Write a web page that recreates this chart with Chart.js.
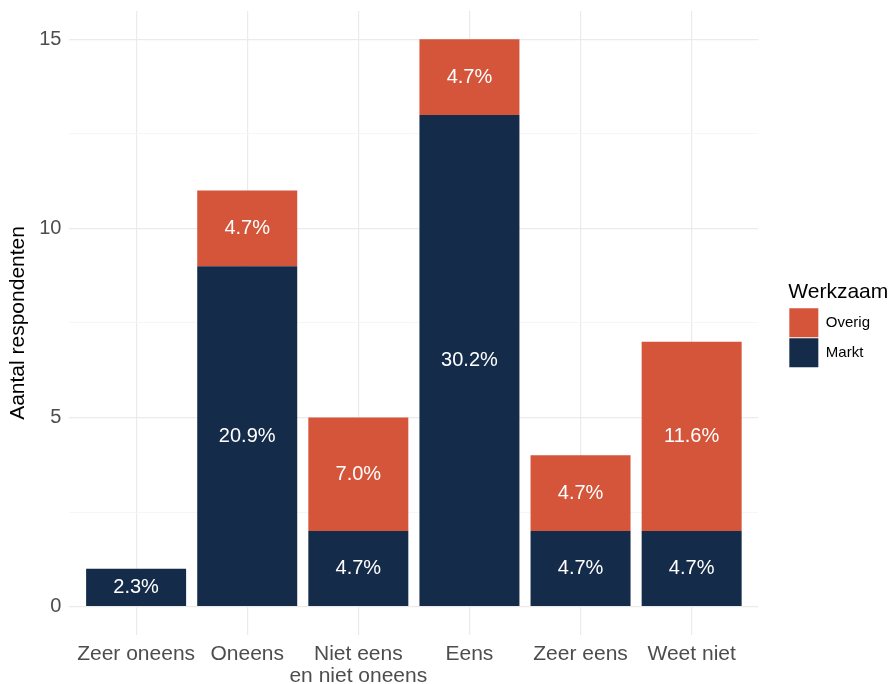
<!DOCTYPE html>
<html>
<head>
<meta charset="utf-8">
<script src="https://cdn.jsdelivr.net/npm/chart.js@4"></script>
<style>
  html, body { margin: 0; padding: 0; background: #fff; }
  #wrap { width: 892px; height: 684px; }
</style>
</head>
<body>
<div id="wrap"><canvas id="chart" width="892" height="684"></canvas></div>
<script>
const categories = ['Zeer oneens', 'Oneens', ['Niet eens', 'en niet oneens'], 'Eens', 'Zeer eens', 'Weet niet'];
const marktValues = [1, 9, 2, 13, 2, 2];
const overigValues = [0, 2, 3, 2, 2, 5];
const marktLabels = ['2.3%', '20.9%', '4.7%', '30.2%', '4.7%', '4.7%'];
const overigLabels = ['', '4.7%', '7.0%', '4.7%', '4.7%', '11.6%'];
const yTicks = [0, 2.5, 5, 7.5, 10, 12.5, 15];

const FONT = '"Liberation Sans", Arial, Helvetica, sans-serif';
const NAVY = '#152B4A';
const ORANGE = '#D4553A';
const LEGEND_EXTRA = 40; // extra legend width
const LEGEND_SHIFT = 30; // how far the legend contents move right

// draw percentage labels centred inside each stacked segment
const segmentLabels = {
    id: 'segmentLabels',
    afterDatasetsDraw(chart) {
        const ctx = chart.ctx;
        const texts = [marktLabels, overigLabels];
        ctx.save();
        ctx.fillStyle = '#ffffff';
        ctx.font = '20px ' + FONT;
        ctx.textAlign = 'center';
        ctx.textBaseline = 'middle';
        chart.data.datasets.forEach((ds, di) => {
            const meta = chart.getDatasetMeta(di);
            meta.data.forEach((bar, i) => {
                const t = texts[di][i];
                if (!t) return;
                ctx.fillText(t, bar.x, (bar.y + bar.base) / 2);
            });
        });
        ctx.restore();
    }
};

// widen the legend box and push its contents right, like ggplot's legend spacing
const legendGap = {
    id: 'legendGap',
    afterInit(chart) {
        const lg = chart.legend;
        const origFit = lg.fit;
        lg.fit = function () {
            origFit.call(this);
            this.width += LEGEND_EXTRA;
        };
    },
    afterLayout(chart) {
        chart.legend.left += LEGEND_SHIFT;
    }
};

new Chart(document.getElementById('chart'), {
    type: 'bar',
    data: {
        datasets: [
            {
                label: 'Markt',
                data: marktValues.map((v, i) => ({ x: i + 1, y: v })),
                backgroundColor: NAVY,
                barPercentage: 0.9,
                categoryPercentage: 1
            },
            {
                label: 'Overig',
                data: overigValues.map((v, i) => ({ x: i + 1, y: v })),
                backgroundColor: ORANGE,
                barPercentage: 0.9,
                categoryPercentage: 1
            }
        ]
    },
    options: {
        responsive: false,
        animation: false,
        layout: { padding: { top: 11, right: 2, bottom: -11, left: 6 } },
        scales: {
            x: {
                type: 'linear',
                stacked: true,
                offset: false,
                min: 0.4,
                max: 6.6,
                afterBuildTicks: (axis) => {
                    axis.ticks = categories.map((c, i) => ({ value: i + 1 }));
                },
                ticks: {
                    autoSkip: false,
                    maxRotation: 0,
                    padding: 8,
                    color: '#4D4D4D',
                    font: { family: FONT, size: 21, lineHeight: 1.05 },
                    callback: (v) => categories[v - 1]
                },
                grid: { color: '#EBEBEB', lineWidth: 1.2, drawTicks: false, offset: false },
                border: { display: false }
            },
            y: {
                stacked: true,
                min: -0.75,
                max: 15.75,
                afterBuildTicks: (axis) => {
                    axis.ticks = yTicks.map(v => ({ value: v }));
                },
                // the tick labels sit well inside the panel, so no extra room is needed
                afterFit: (axis) => {
                    axis.paddingTop = 0;
                    axis.paddingBottom = 0;
                },
                ticks: {
                    padding: 8,
                    color: '#4D4D4D',
                    font: { family: FONT, size: 20 },
                    callback: (v) => (v % 5 === 0 ? v : '')
                },
                grid: {
                    drawTicks: false,
                    color: (c) => (c.tick && c.tick.value % 5 === 0 ? '#EBEBEB' : '#F4F4F4'),
                    lineWidth: (c) => (c.tick && c.tick.value % 5 === 0 ? 1.2 : 0.8)
                },
                border: { display: false },
                title: {
                    display: true,
                    text: 'Aantal respondenten',
                    color: '#000',
                    font: { family: FONT, size: 21 },
                    padding: { top: 0, bottom: 0 }
                }
            }
        },
        plugins: {
            legend: {
                position: 'right',
                align: 'start',
                reverse: true,
                title: {
                    display: true,
                    text: 'Werkzaam',
                    color: '#000',
                    position: 'start',
                    font: { family: FONT, size: 21 },
                    padding: { top: 271, bottom: 0 }
                },
                labels: {
                    boxWidth: 29,
                    boxHeight: 29,
                    padding: 1,
                    color: '#000',
                    font: { family: FONT, size: 15 }
                }
            },
            tooltip: { enabled: false }
        }
    },
    plugins: [segmentLabels, legendGap]
});
</script>
</body>
</html>
